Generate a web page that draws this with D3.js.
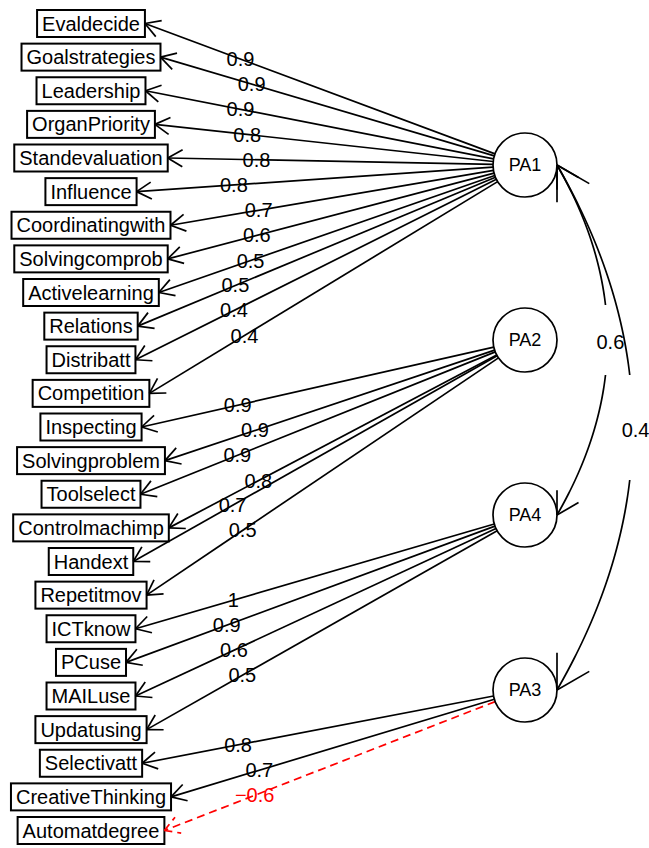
<!DOCTYPE html>
<html>
<head>
<meta charset="utf-8">
<script src="https://d3js.org/d3.v7.min.js"></script>
<style>
	body { margin: 0; background: #fff; }
	text { font-family: "Liberation Sans", Arial, sans-serif; }
</style>
</head>
<body>
<div class="chart"></div>
<script>
var w = 649, h = 848;

// items, the factor each one loads on, and the loading
var variables = ["Evaldecide", "Goalstrategies", "Leadership", "OrganPriority", "Standevaluation",
	"Influence", "Coordinatingwith", "Solvingcomprob", "Activelearning", "Relations", "Distribatt",
	"Competition", "Inspecting", "Solvingproblem", "Toolselect", "Controlmachimp", "Handext",
	"Repetitmov", "ICTknow", "PCuse", "MAILuse", "Updatusing", "Selectivatt", "CreativeThinking",
	"Automatdegree"];
var factorOf = ["PA1", "PA1", "PA1", "PA1", "PA1", "PA1", "PA1", "PA1", "PA1", "PA1", "PA1", "PA1",
	"PA2", "PA2", "PA2", "PA2", "PA2", "PA2",
	"PA4", "PA4", "PA4", "PA4",
	"PA3", "PA3", "PA3"];
var loadings = [0.9, 0.9, 0.9, 0.8, 0.8, 0.8, 0.7, 0.6, 0.5, 0.5, 0.4, 0.4,
	0.9, 0.9, 0.9, 0.8, 0.7, 0.5,
	1, 0.9, 0.6, 0.5,
	0.8, 0.7, -0.6];
var factors = ["PA1", "PA2", "PA4", "PA3"];

// factor correlations
var corFrom = ["PA1", "PA1"];
var corTo = ["PA4", "PA3"];
var corValues = [0.6, 0.4];

var xVar = 91, xFac = 525, rFac = 32, boxH = 27, boxPad = 5, headLen = 17, fontSize = 20;
var yVar = d3.scalePoint().domain(variables).range([23.5, 830.5]);
var yFac = d3.scalePoint().domain(factors).range([165, 690]);
var fmt = d3.format(".1~f");

var svg = d3.select(".chart")
	.append("svg")
	.attr("width", w)
	.attr("height", h);

function arrowHead(g, tx, ty, dx, dy, len, color, dash) {
	// dx,dy points from the tip back along the line
	var a = Math.atan2(dy, dx);
	[-Math.PI / 6, Math.PI / 6].forEach(function(o) {
		g.append("line")
			.attr("x1", tx).attr("y1", ty)
			.attr("x2", tx + len * Math.cos(a + o))
			.attr("y2", ty + len * Math.sin(a + o))
			.attr("stroke", color)
			.attr("stroke-width", 1.7)
			.attr("stroke-dasharray", dash);
	});
}

// variable boxes
var boxes = svg.append("g").attr("class", "variables");
var boxRight = {};
variables.forEach(function(v) {
	var g = boxes.append("g");
	var t = g.append("text")
		.attr("x", xVar)
		.attr("y", yVar(v))
		.attr("dy", "0.35em")
		.attr("text-anchor", "middle")
		.attr("font-size", fontSize)
		.text(v);
	var bw = t.node().getComputedTextLength() + 2 * boxPad;
	boxRight[v] = xVar + bw / 2;
	g.insert("rect", "text")
		.attr("x", xVar - bw / 2)
		.attr("y", yVar(v) - boxH / 2)
		.attr("width", bw)
		.attr("height", boxH)
		.attr("fill", "none")
		.attr("stroke", "#000")
		.attr("stroke-width", 2);
});

// loading arrows
var paths = svg.append("g").attr("class", "loadings");
for (var i = 0; i < variables.length; i++) {
	var v = variables[i], f = factorOf[i];
	var tx = boxRight[v], ty = yVar(v);
	var cy = yFac(f);
	var a = Math.atan2(ty - cy, tx - xFac);
	var sx = xFac + rFac * Math.cos(a), sy = cy + rFac * Math.sin(a);
	var neg = loadings[i] < 0;
	var color = neg ? "#ff0000" : "#000";
	var dash = neg ? "8,5" : null;
	paths.append("line")
		.attr("x1", sx).attr("y1", sy)
		.attr("x2", tx).attr("y2", ty)
		.attr("stroke", color)
		.attr("stroke-width", 1.7)
		.attr("stroke-dasharray", dash);
	arrowHead(paths, tx, ty, sx - tx, sy - ty, headLen, color, dash);
	paths.append("text")
		.attr("x", tx + 0.273 * (sx - tx))
		.attr("y", ty + 0.273 * (sy - ty))
		.attr("dy", "0.35em")
		.attr("text-anchor", "middle")
		.attr("font-size", fontSize)
		.attr("fill", color)
		.text(fmt(loadings[i]));
}

// factor circles
var facs = svg.append("g").attr("class", "factors");
factors.forEach(function(f) {
	facs.append("circle")
		.attr("cx", xFac)
		.attr("cy", yFac(f))
		.attr("r", rFac)
		.attr("fill", "#fff")
		.attr("stroke", "#000")
		.attr("stroke-width", 1.7);
	facs.append("text")
		.attr("x", xFac)
		.attr("y", yFac(f))
		.attr("dy", "0.35em")
		.attr("text-anchor", "middle")
		.attr("font-size", 18)
		.text(f);
});

// curved correlation arrows
var cors = svg.append("g").attr("class", "correlations");
var line = d3.line();
for (var j = 0; j < corValues.length; j++) {
	var x0 = xFac + rFac, y0 = yFac(corFrom[j]), y2 = yFac(corTo[j]);
	var L = y2 - y0;
	var cx = x0 + 0.2887 * L, cyy = (y0 + y2) / 2;
	var bez = function(t) {
		var u = 1 - t;
		return [u * u * x0 + 2 * u * t * cx + t * t * x0, u * u * y0 + 2 * u * t * cyy + t * t * y2];
	};
	[[0, 0.4], [0.6, 1]].forEach(function(seg) {
		var pts = d3.range(0, 41).map(function(k) { return bez(seg[0] + (seg[1] - seg[0]) * k / 40); });
		cors.append("path")
			.attr("d", line(pts))
			.attr("fill", "none")
			.attr("stroke", "#000")
			.attr("stroke-width", 1.7);
	});
	var hl = 0.071 * L;
	arrowHead(cors, x0, y0, cx - x0, cyy - y0, hl, "#000", null);
	arrowHead(cors, x0, y2, cx - x0, cyy - y2, hl, "#000", null);
	cors.append("text")
		.attr("x", x0 + 0.144 * L + 3)
		.attr("y", cyy + 2)
		.attr("dy", "0.35em")
		.attr("text-anchor", "middle")
		.attr("font-size", fontSize)
		.text(fmt(corValues[j]));
}
</script>
</body>
</html>
